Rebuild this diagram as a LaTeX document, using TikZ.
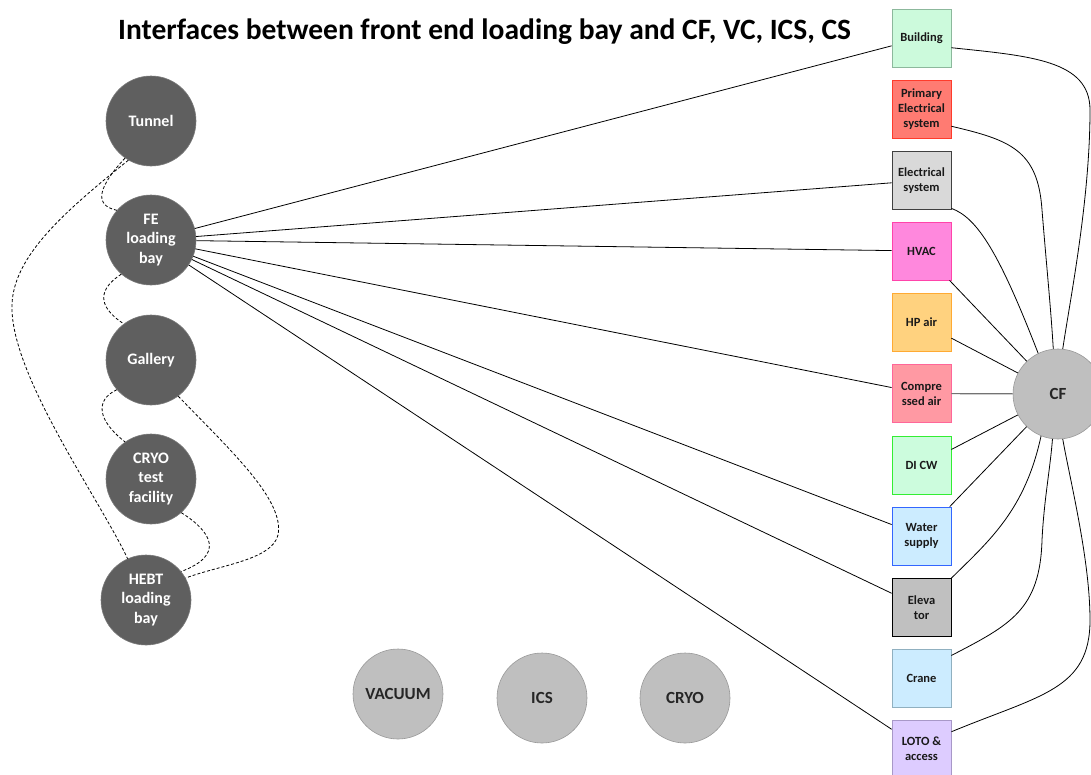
\documentclass[tikz,border=0pt]{standalone}
\usepackage{fontspec}
\setmainfont{Carlito}
\begin{document}
\definecolor{darknode}{HTML}{5F5F5F}
\definecolor{darkedge}{HTML}{7A7A7A}
\definecolor{lightnode}{HTML}{BFBFBF}
\definecolor{lightedge}{HTML}{999999}
\begin{tikzpicture}[x=1pt,y=-1pt,
  darkc/.style={circle,fill=darknode,draw=darkedge,line width=0.6pt,minimum size=90pt,inner sep=0pt,
    text=white,align=center,font=\bfseries\fontsize{16}{19.5}\selectfont},
  lightc/.style={circle,fill=lightnode,draw=lightedge,line width=0.6pt,minimum size=90pt,inner sep=0pt,
    text=black!85,align=center,font=\bfseries\fontsize{17}{19}\selectfont},
  sysbox/.style={rectangle,minimum width=59pt,minimum height=58pt,inner sep=0pt,line width=0.8pt,
    text=black!90,align=center,font=\bfseries\fontsize{12.5}{15}\selectfont},
  link/.style={line width=0.8pt,black},
  dlink/.style={line width=0.8pt,black,dash pattern=on 3pt off 2pt}]
\useasboundingbox (0,0) rectangle (1091,774);

% title
\node[anchor=west,font=\bfseries\fontsize{29.5}{34}\selectfont,inner sep=0pt] (title) at (118,32)
  {Interfaces between front end loading bay and CF, VC, ICS, CS};

% areas on the left
\node[darkc] (tun) at (151,121) {Tunnel};
\node[darkc] (fe) at (151,240) {FE\\loading\\bay};
\node[darkc] (gal) at (151,360) {Gallery};
\node[darkc] (cryot) at (151,479) {CRYO\\test\\facility};
\node[darkc] (hebt) at (146,600) {HEBT\\loading\\bay};

% other systems
\node[lightc] (vac) at (398,694) {VACUUM};
\node[lightc] (ics) at (542,698) {ICS};
\node[lightc] (cryo) at (685,698) {CRYO};
\node[lightc] (cf) at (1058,394) {CF};

% CF subsystems
\node[sysbox,fill={rgb,255:red,204;green,250;blue,220},draw={rgb,255:red,140;green,184;blue,156}] (bld) at (921.5,38) {Building};
\node[sysbox,fill={rgb,255:red,255;green,123;blue,114},draw={rgb,255:red,255;green,59;blue,43}] (prim) at (921.5,109) {Primary\\Electrical\\system};
\node[sysbox,fill={rgb,255:red,217;green,217;blue,217},draw={rgb,255:red,64;green,64;blue,64}] (elec) at (921.5,180.5) {Electrical\\system};
\node[sysbox,fill={rgb,255:red,255;green,136;blue,221},draw={rgb,255:red,255;green,68;blue,170}] (hvac) at (921.5,251) {HVAC};
\node[sysbox,fill={rgb,255:red,255;green,210;blue,127},draw={rgb,255:red,255;green,170;blue,51}] (hpair) at (921.5,322.5) {HP air};
\node[sysbox,fill={rgb,255:red,255;green,153;blue,163},draw={rgb,255:red,255;green,102;blue,153}] (comp) at (921.5,393.5) {Compre\\ssed air};
\node[sysbox,fill={rgb,255:red,204;green,252;blue,221},draw={rgb,255:red,51;green,238;blue,51}] (dicw) at (921.5,465) {DI CW};
\node[sysbox,fill={rgb,255:red,204;green,236;blue,255},draw={rgb,255:red,51;green,102;blue,255}] (water) at (921.5,536) {Water\\supply};
\node[sysbox,fill={rgb,255:red,192;green,192;blue,192},draw=black] (elev) at (921.5,607.5) {Eleva\\tor};
\node[sysbox,fill={rgb,255:red,204;green,236;blue,255},draw={rgb,255:red,144;green,176;blue,192}] (crane) at (921.5,678) {Crane};
\node[sysbox,fill={rgb,255:red,221;green,204;blue,255},draw={rgb,255:red,168;green,152;blue,200}] (loto) at (921.5,749) {LOTO \&\\access};

% interfaces of the FE loading bay
\foreach \t in {bld,elec,hvac,comp,water,elev,loto}
  \draw[link] (fe) -- (\t);

% subsystems to CF
\draw[link] (bld.-18) .. controls (1030,56) and (1090,60) .. (1090,110)
  .. controls (1090,200) and (1070,300) .. (cf.84);
\draw[link] (prim.-30) .. controls (1010,140) and (1038,150) .. (1042,210)
  .. controls (1046,260) and (1051,310) .. (cf.96);
\draw[link] (elec.-43) .. controls (978,218) and (1000,255) .. (cf.116);
\draw[link] (hvac) -- (cf);
\draw[link] (hpair) -- (cf);
\draw[line width=1.2pt,black!55] (comp) -- (cf);
\draw[link] (dicw) -- (cf);
\draw[link] (water) -- (cf);
\draw[link] (elev.north east) .. controls (990,540) and (1025,510) .. (cf.-112);
\draw[link] (crane.37) .. controls (1010,625) and (1040,610) .. (1042,540)
  .. controls (1044,500) and (1050,470) .. (cf.-97);
\draw[link] (loto.30) .. controls (1040,695) and (1090,690) .. (1090,620)
  .. controls (1090,560) and (1070,480) .. (cf.-84);

% dashed links between the areas
\draw[dlink] (tun.-125) .. controls (100,185) and (92,205) .. (fe.139);
\draw[dlink] (tun.-120) .. controls (60,215) and (10,260) .. (12,310)
  .. controls (14,380) and (100,500) .. (hebt.114);
\draw[dlink] (fe.-131) .. controls (100,288) and (95,305) .. (gal.127);
\draw[dlink] (gal.-139) .. controls (95,400) and (97,420) .. (cryot.125);
\draw[dlink] (gal.-53) .. controls (230,450) and (285,500) .. (278,535)
  .. controls (272,560) and (220,565) .. (hebt.29);
\draw[dlink] (cryot.-48) .. controls (212,532) and (225,555) .. (hebt.39);
\end{tikzpicture}
\end{document}
